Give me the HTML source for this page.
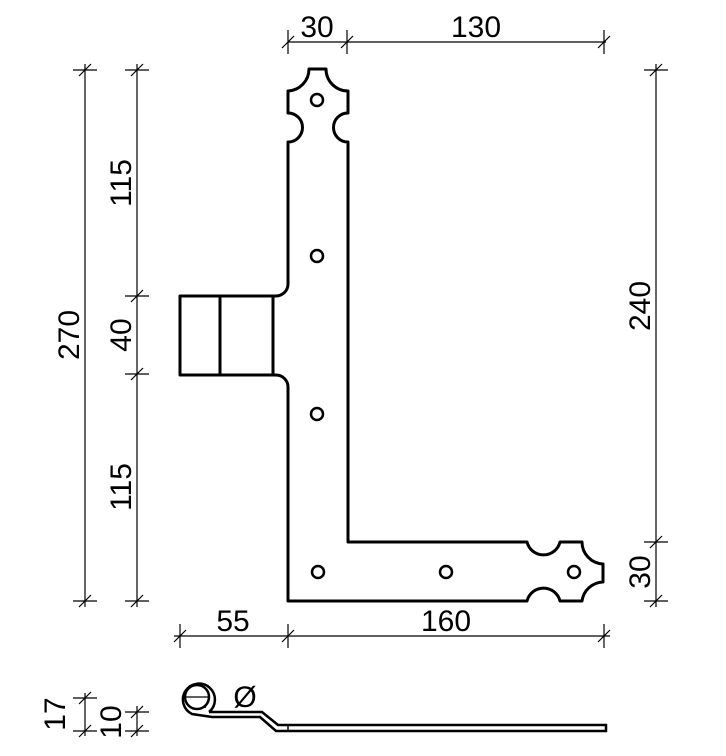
<!DOCTYPE html>
<html><head><meta charset="utf-8"><style>
html,body{margin:0;padding:0;background:#fff;}
svg{display:block;}
text{font-family:"Liberation Sans",sans-serif;font-size:30px;fill:#000;}
</style></head><body>
<svg width="726" height="756" viewBox="0 0 726 756" xmlns="http://www.w3.org/2000/svg">
<g fill="none" stroke="#000" stroke-width="3" stroke-linejoin="round">
<path d="M309,69 L326,69 A22,22 0 0 0 348,91 L348,113 A14.5,14.5 0 0 0 348,142 L348,542 L527,542 A17,17 0 0 0 560,542 L582,542 A22,22 0 0 0 603,564 L603,582 A22,22 0 0 0 582,601 L560,601 A17,17 0 0 0 527,601 L288,601 L288,387 A12,12 0 0 0 276,375 L273,375 L273,296 L276,296 A12,12 0 0 0 288,284 L288,142 A14.5,14.5 0 0 0 288,113 L288,91 A22,22 0 0 0 309,69 Z"/>
<rect x="180" y="296" width="93" height="79"/>
<line x1="220" y1="296" x2="220" y2="375"/>
</g>
<g fill="none" stroke="#000" stroke-width="2.5">
<circle cx="317" cy="100" r="6"/><circle cx="317" cy="256" r="6"/><circle cx="317" cy="414" r="6"/>
<circle cx="318" cy="572" r="6"/><circle cx="446" cy="572" r="6"/><circle cx="574" cy="572" r="6"/>
</g>
<g stroke="#000" stroke-width="1.2" fill="none">
<!-- top -->
<line x1="288" y1="42" x2="606" y2="42"/>
<line x1="288" y1="30" x2="288" y2="54"/><line x1="347" y1="30" x2="347" y2="54"/><line x1="604" y1="30" x2="604" y2="54"/>
<line x1="282" y1="48" x2="294" y2="36"/><line x1="341" y1="48" x2="353" y2="36"/><line x1="598" y1="48" x2="610" y2="36"/>
<!-- left 270 -->
<line x1="85" y1="64" x2="85" y2="607"/>
<line x1="73" y1="70" x2="97" y2="70"/><line x1="73" y1="601" x2="97" y2="601"/>
<line x1="79" y1="76" x2="91" y2="64"/><line x1="79" y1="607" x2="91" y2="595"/>
<!-- left 115/40/115 -->
<line x1="137" y1="64" x2="137" y2="607"/>
<line x1="125" y1="70" x2="149" y2="70"/><line x1="125" y1="296" x2="149" y2="296"/><line x1="125" y1="374" x2="149" y2="374"/><line x1="125" y1="601" x2="149" y2="601"/>
<line x1="131" y1="76" x2="143" y2="64"/><line x1="131" y1="302" x2="143" y2="290"/><line x1="131" y1="380" x2="143" y2="368"/><line x1="131" y1="607" x2="143" y2="595"/>
<!-- right -->
<line x1="656" y1="64" x2="656" y2="607"/>
<line x1="644" y1="70" x2="668" y2="70"/><line x1="644" y1="542" x2="668" y2="542"/><line x1="644" y1="601" x2="668" y2="601"/>
<line x1="650" y1="76" x2="662" y2="64"/><line x1="650" y1="548" x2="662" y2="536"/><line x1="650" y1="607" x2="662" y2="595"/>
<!-- bottom -->
<line x1="174" y1="636" x2="610" y2="636"/>
<line x1="180" y1="624" x2="180" y2="648"/><line x1="288" y1="624" x2="288" y2="648"/><line x1="604" y1="624" x2="604" y2="648"/>
<line x1="174" y1="642" x2="186" y2="630"/><line x1="282" y1="642" x2="294" y2="630"/><line x1="598" y1="642" x2="610" y2="630"/>
<!-- 17 / 10 -->
<line x1="85" y1="693" x2="85" y2="736"/>
<line x1="73" y1="698" x2="97" y2="698"/><line x1="73" y1="731" x2="97" y2="731"/>
<line x1="79" y1="704" x2="91" y2="692"/><line x1="79" y1="737" x2="91" y2="725"/>
<line x1="137" y1="706" x2="137" y2="736"/>
<line x1="125" y1="712" x2="149" y2="712"/><line x1="125" y1="731" x2="149" y2="731"/>
<line x1="131" y1="718" x2="143" y2="706"/><line x1="131" y1="737" x2="143" y2="725"/>
<!-- ring dim -->
<line x1="185" y1="697" x2="209" y2="697"/>
<line x1="209" y1="697" x2="205" y2="708"/>
</g>
<g fill="none" stroke="#000" stroke-width="2.5">
<circle cx="197" cy="697" r="12"/>
<path d="M209,712 A16,16 0 1 0 192,714 L212,717 L260,717 L276,731 L606,731 L606,725 L278,725 L262,712 L209,712"/>
<line x1="288" y1="725" x2="288" y2="731" stroke-width="1.5"/>
</g>
<text x="317" y="37" text-anchor="middle">30</text>
<text x="476" y="37" text-anchor="middle">130</text>
<text x="233" y="631" text-anchor="middle">55</text>
<text x="446" y="631" text-anchor="middle">160</text>
<text x="245" y="707" text-anchor="middle">Ø</text>
<text transform="translate(79,335) rotate(-90)" text-anchor="middle">270</text>
<text transform="translate(131,183) rotate(-90)" text-anchor="middle">115</text>
<text transform="translate(131,335) rotate(-90)" text-anchor="middle">40</text>
<text transform="translate(131,487) rotate(-90)" text-anchor="middle">115</text>
<text transform="translate(650,306) rotate(-90)" text-anchor="middle">240</text>
<text transform="translate(650,572) rotate(-90)" text-anchor="middle">30</text>
<text transform="translate(65,714) rotate(-90)" text-anchor="middle">17</text>
<text transform="translate(121,722) rotate(-90)" text-anchor="middle">10</text>
</svg>
</body></html>
